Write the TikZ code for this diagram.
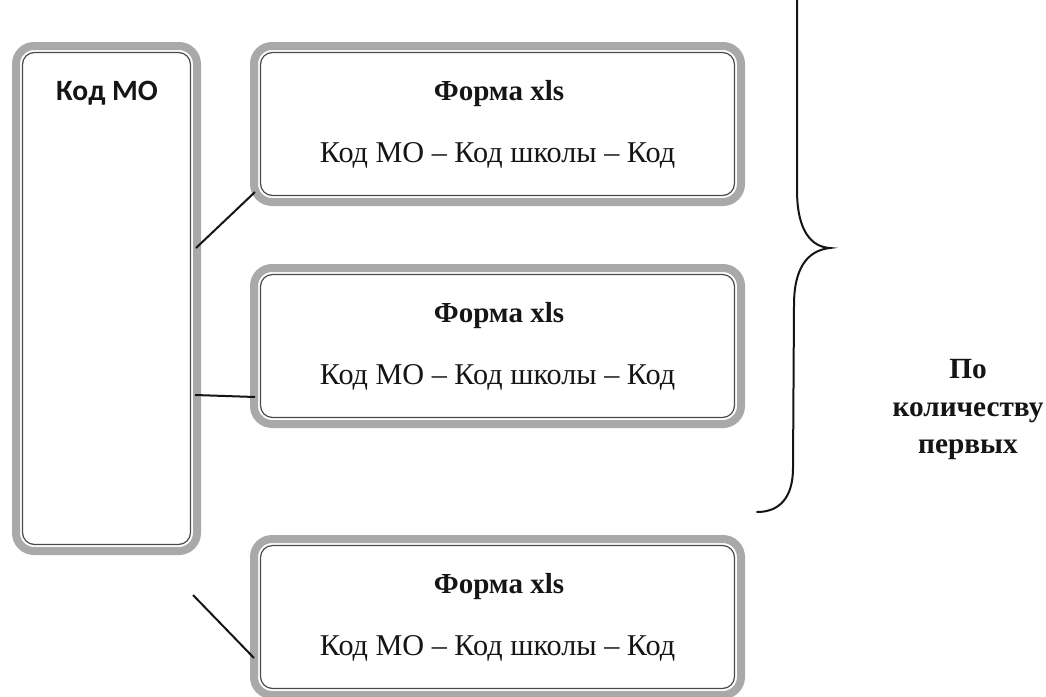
\documentclass[tikz,border=0pt]{standalone}
\usepackage{fontspec}
\setmainfont{Liberation Serif}
\newfontfamily\calibrifont{Carlito}
\definecolor{bandgray}{HTML}{A9A9A9}
\definecolor{linegray}{HTML}{4A4A4A}
\definecolor{inkblack}{HTML}{151515}
\begin{document}
\begin{tikzpicture}[x=1pt,y=-1pt,
  outerbox/.style={draw=bandgray, line width=8pt, rounded corners=18pt, outer sep=4pt, inner sep=0pt, fill=white},
  innerline/.style={draw=linegray, line width=1.2pt, rounded corners=12pt},
  formlbl/.style={font=\fontsize{29}{34}\selectfont\bfseries, text=inkblack, anchor=base, inner sep=0pt},
  codelbl/.style={font=\fontsize{30.2}{35}\selectfont, text=inkblack, anchor=base, inner sep=0pt},
  molbl/.style={font=\calibrifont\fontsize{29.5}{34}\selectfont\bfseries, text=inkblack, anchor=base, inner sep=0pt},
  sidelbl/.style={font=\fontsize{29.3}{34}\selectfont\bfseries, text=inkblack, anchor=base, inner sep=0pt},
  conn/.style={draw=inkblack, line width=2pt},
  bracestyle/.style={draw=inkblack, line width=2pt, line cap=round}]
\useasboundingbox[fill=white] (0,0) rectangle (1046,696);

% boxes
\node[outerbox, minimum width=181pt, minimum height=505pt] (mo) at (106.5,298.5) {};
\node[outerbox, minimum width=487pt, minimum height=156pt] (f1) at (497.5,124) {};
\node[outerbox, minimum width=487pt, minimum height=156pt] (f2) at (497.5,346) {};
\node[outerbox, minimum width=487pt, minimum height=156pt] (f3) at (497.5,617) {};
\foreach \n in {mo,f1,f2,f3}
  \draw[innerline] ([shift={(10.5pt,-10.5pt)}]\n.north west) rectangle ([shift={(-10.5pt,10.5pt)}]\n.south east);

% texts
\node[molbl] (motxt) at (107,100) {Код МО};
\node[formlbl] (f1a) at (499,100) {Форма xls};
\node[codelbl] (f1b) at (497.5,162) {Код МО – Код школы – Код};
\node[formlbl] (f2a) at (499,322) {Форма xls};
\node[codelbl] (f2b) at (497.5,384) {Код МО – Код школы – Код};
\node[formlbl] (f3a) at (499,593) {Форма xls};
\node[codelbl] (f3b) at (497.5,655) {Код МО – Код школы – Код};

\node[sidelbl] (s1) at (968,378) {По};
\node[sidelbl] (s2) at (968,416) {количеству};
\node[sidelbl] (s3) at (968,453) {первых};

% connectors
\coordinate (l3s) at (193,595);
\draw[conn] ([shift={(-5pt,50.5pt)}]mo.east) -- ([shift={(5pt,14pt)}]f1.south west);
\draw[conn] ([shift={(-6pt,-96.5pt)}]mo.east) -- ([shift={(5pt,-51pt)}]f2.west);
\draw[conn] (l3s) -- ([shift={(4pt,-41pt)}]f3.west);

% brace
\coordinate (brtop) at (797,-5);
\coordinate (brtip) at (830,248);
\coordinate (brbot) at (757,512);
\draw[bracestyle] (brtop) -- (797,190) .. controls (797,232) and (812,247) .. (brtip)
  .. controls (812,250) and (794,262) .. (794,305) -- (793,468)
  .. controls (793,497) and (780,512) .. (brbot);
\end{tikzpicture}
\end{document}
